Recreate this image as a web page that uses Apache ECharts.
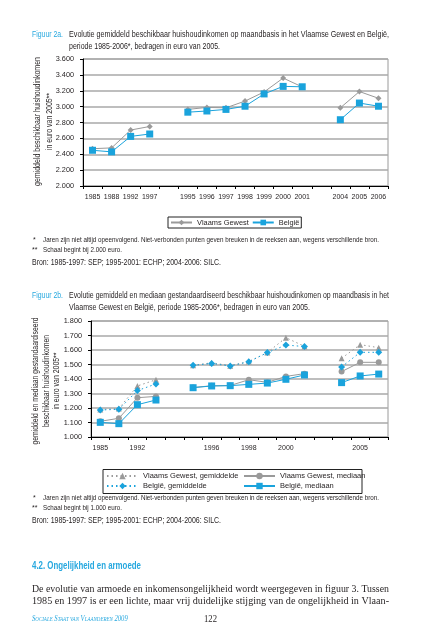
<!DOCTYPE html>
<html><head><meta charset="utf-8">
<script src="https://cdn.jsdelivr.net/npm/echarts@6/dist/echarts.min.js"></script>
<style>html,body{margin:0;padding:0;background:#fff}#c{width:426px;height:640px}</style>
</head><body><div id="c"></div>
<script>
// ---------- data ----------
const categories = ['1985','1988','1992','1997','','1995','1996','1997','1998','1999','2000','2001','','2004','2005','2006'];
// Figure 2a: average disposable household income (euro 2005)
const vlaamsGewest2a = [2470, 2480, 2705, 2750, null, 2965, 2990, 2985, 3070, 3185, 3360, 3248, null, 2985, 3190, 3105];
const belgie2a       = [2450, 2430, 2625, 2655, null, 2930, 2945, 2965, 3005, 3160, 3255, 3250, null, 2835, 3045, 3005];
// Figure 2b: equivalised disposable household income
const vgGemiddelde2b = [1190, 1196, 1352, 1395, null, 1494, 1512, 1492, 1520, 1582, 1685, 1625, null, 1543, 1637, 1616];
const beGemiddelde2b = [1186, 1191, 1320, 1366, null, 1494, 1507, 1490, 1519, 1582, 1634, 1624, null, 1483, 1584, 1584];
const vgMediaan2b    = [1108, 1129, 1271, 1280, null, 1342, 1353, 1355, 1395, 1377, 1418, 1437, null, 1451, 1515, 1515];
const beMediaan2b    = [1101, 1092, 1223, 1255, null, 1340, 1352, 1354, 1363, 1372, 1398, 1428, null, 1375, 1421, 1434];
const yScale2a = {min: 2000, max: 3600, interval: 200};
const yScale2b = {min: 1000, max: 1800, interval: 100};

// ---------- styling ----------
const SANS = "'Liberation Sans',Arial,sans-serif";
const SERIF = "'Liberation Serif','Times New Roman',serif";
const TXT = '#231f20', TEAL = '#27a8df', GRAY = '#9a9a9a', BLUE = '#1aa3dc', GRID = '#a9a9a9';

const mctx = document.createElement('canvas').getContext('2d');
function T(x, y, text, o) {
  o = o || {};
  const size = o.size || 8, fam = o.family || SANS, weight = o.weight || 'normal', it = o.italic ? 'italic ' : '';
  const font = it + weight + ' ' + size + 'px ' + fam;
  let sx = 1;
  if (o.w) { mctx.font = font; sx = o.w / mctx.measureText(o.measure || text).width; }
  const el = { type: 'text', x: x, y: y, scaleX: sx, rotation: o.rot || 0, silent: true, z: 10,
    style: { text: text, fill: o.color || TXT, font: font,
      textAlign: o.align || 'left', align: o.align || 'left',
      textVerticalAlign: 'middle', verticalAlign: 'middle' } };
  if (o.rich) el.style.rich = o.rich;
  return el;
}
const fmt = v => String(v).replace(/\B(?=(\d{3})+(?!\d))/g, '.');

const graphics = [
  T(32, 35, 'Figuur 2a.', {color: TEAL, size: 9, w: 31}),
  T(69, 35, 'Evolutie gemiddeld beschikbaar huishoudinkomen op maandbasis in het Vlaamse Gewest en België,', {size: 9, w: 320}),
  T(69, 47, 'periode 1985-2006*, bedragen in euro van 2005.', {size: 9, w: 151}),
  T(38, 121.5, 'gemiddeld beschikbaar huishoudinkomen', {size: 9, w: 129, rot: Math.PI/2, align: 'center'}),
  T(50, 121.5, 'in euro van 2005**', {size: 9, w: 57, rot: Math.PI/2, align: 'center'}),
  T(33, 240, '*', {size: 7}),
  T(43, 240, 'Jaren zijn niet altijd opeenvolgend. Niet-verbonden punten geven breuken in de reeksen aan, wegens verschillende bron.', {size: 7.5, w: 336}),
  T(32, 250, '**', {size: 7}),
  T(43, 250, 'Schaal begint bij 2.000 euro.', {size: 7.5, w: 79}),
  T(32, 263, 'Bron: 1985-1997: SEP; 1995-2001: ECHP; 2004-2006: SILC.', {size: 8.5, w: 189}),

  T(32, 296, 'Figuur 2b.', {color: TEAL, size: 9, w: 31}),
  T(69, 296, 'Evolutie gemiddeld en mediaan gestandaardiseerd beschikbaar huishoudinkomen op maandbasis in het', {size: 9, w: 320}),
  T(69, 307.5, 'Vlaamse Gewest en België, periode 1985-2006*, bedragen in euro van 2005.', {size: 9, w: 241}),
  T(36, 381, 'gemiddeld en mediaan gestandaardiseerd', {size: 9, w: 127, rot: Math.PI/2, align: 'center'}),
  T(46.5, 381, 'beschikbaar huishoudinkomen', {size: 9, w: 92, rot: Math.PI/2, align: 'center'}),
  T(57, 381, 'in euro van 2005**', {size: 9, w: 57, rot: Math.PI/2, align: 'center'}),
  { type: 'rect', shape: {x: 103, y: 469.5, width: 259, height: 24}, style: {fill: 'none', stroke: '#222', lineWidth: 1}, silent: true, z: 5 },
  T(33, 498, '*', {size: 7}),
  T(43, 498, 'Jaren zijn niet altijd opeenvolgend. Niet-verbonden punten geven breuken in de reeksen aan, wegens verschillende bron.', {size: 7.5, w: 336}),
  T(32, 508, '**', {size: 7}),
  T(43, 508, 'Schaal begint bij 1.000 euro.', {size: 7.5, w: 79}),
  T(32, 521, 'Bron: 1985-1997: SEP; 1995-2001: ECHP; 2004-2006: SILC.', {size: 8.5, w: 189}),

  T(32, 566, '4.2. Ongelijkheid en armoede', {color: TEAL, size: 10, weight: 'bold', w: 109}),
  T(32, 589, 'De evolutie van armoede en inkomensongelijkheid wordt weergegeven in figuur 3. Tussen', {family: SERIF, size: 10.5, w: 357}),
  T(32, 601.5, '1985 en 1997 is er een lichte, maar vrij duidelijke stijging van de ongelijkheid in Vlaan-', {family: SERIF, size: 10.5, w: 357}),
  T(32, 619, '{b|S}{s|OCIALE} {b|S}{s|TAAT VAN} {b|V}{s|LAANDEREN} {b|2009}', {family: SERIF, italic: true, size: 8, color: TEAL,
    w: 118, measure: 'SOCIALE STAAT VAN VLAANDEREN 2009',
    rich: {b: {fontFamily: SERIF, fontStyle: 'italic', fontSize: 8, fill: TEAL, color: TEAL}, s: {fontFamily: SERIF, fontStyle: 'italic', fontSize: 6, fill: TEAL, color: TEAL}}}),
  T(204, 619, '122', {family: SERIF, size: 9.5, w: 13})
];

function xAx(gi, labelInterval) {
  return { type: 'category', gridIndex: gi, data: categories, boundaryGap: true,
    axisLine: {lineStyle: {color: '#000', width: 1}},
    axisTick: {show: true, interval: 0, length: 3, lineStyle: {color: '#000'}},
    axisLabel: {interval: labelInterval, fontSize: 7, color: TXT, margin: 8, fontFamily: SANS},
    splitLine: {show: false} };
}
function yAx(gi, sc, margin) {
  return { type: 'value', gridIndex: gi, min: sc.min, max: sc.max, interval: sc.interval,
    axisLine: {show: true, lineStyle: {color: '#000', width: 1}},
    axisTick: {show: true, length: 3, lineStyle: {color: '#000'}},
    axisLabel: {formatter: fmt, fontSize: 7.3, color: TXT, margin: margin, fontFamily: SANS},
    splitLine: {lineStyle: {color: GRID, width: 1.5}} };
}
function ln(name, gi, data, symbol, size, color, dotted, z) {
  return { name: name, type: 'line', xAxisIndex: gi, yAxisIndex: gi, data: data,
    symbol: symbol, symbolSize: size, showSymbol: true, showAllSymbol: true, connectNulls: false,
    itemStyle: {color: color}, lineStyle: {color: color, width: 1, type: dotted ? [1.5, 3] : 'solid'},
    z: z, animation: false };
}
const legendText = {fontSize: 7.5, color: TXT, fontFamily: SANS};

const option = {
  backgroundColor: '#fff',
  animation: false,
  grid: [
    {left: 83, top: 59, width: 305, height: 127, show: true, borderColor: GRAY, borderWidth: 1, backgroundColor: '#fff'},
    {left: 91, top: 321, width: 297, height: 116, show: true, borderColor: GRAY, borderWidth: 1, backgroundColor: '#fff'}
  ],
  xAxis: [xAx(0, 0), xAx(1, 1)],
  yAxis: [yAx(0, yScale2a, 9), yAx(1, yScale2b, 9)],
  legend: [
    {data: ['Vlaams Gewest', 'België'], left: 168, top: 217, itemWidth: 21, itemHeight: 7, itemGap: 3,
     borderColor: '#222', borderWidth: 1, borderRadius: 0, padding: [2, 2, 2, 2], textStyle: {fontSize: 7.4, color: TXT, fontFamily: SANS}},
    {data: ['Vlaams Gewest, gemiddelde', 'België, gemiddelde'], orient: 'vertical', left: 105, top: 471,
     itemWidth: 31, itemHeight: 8, itemGap: 2, padding: 1, textStyle: legendText},
    {data: ['Vlaams Gewest, mediaan', 'België, mediaan'], orient: 'vertical', left: 242, top: 471,
     itemWidth: 31, itemHeight: 8, itemGap: 2, padding: 1, textStyle: legendText}
  ],
  series: [
    ln('Vlaams Gewest', 0, vlaamsGewest2a, 'diamond', 6, GRAY, false, 2),
    ln('België', 0, belgie2a, 'rect', 7, BLUE, false, 3),
    ln('Vlaams Gewest, gemiddelde', 1, vgGemiddelde2b, 'triangle', 6, GRAY, true, 2),
    ln('België, gemiddelde', 1, beGemiddelde2b, 'diamond', 7, BLUE, true, 3),
    ln('Vlaams Gewest, mediaan', 1, vgMediaan2b, 'circle', 6, GRAY, false, 2),
    ln('België, mediaan', 1, beMediaan2b, 'rect', 7, BLUE, false, 3)
  ],
  graphic: graphics
};
const chart = echarts.init(document.getElementById('c'), null, {renderer: 'canvas'});
chart.setOption(option);
</script></body></html>
